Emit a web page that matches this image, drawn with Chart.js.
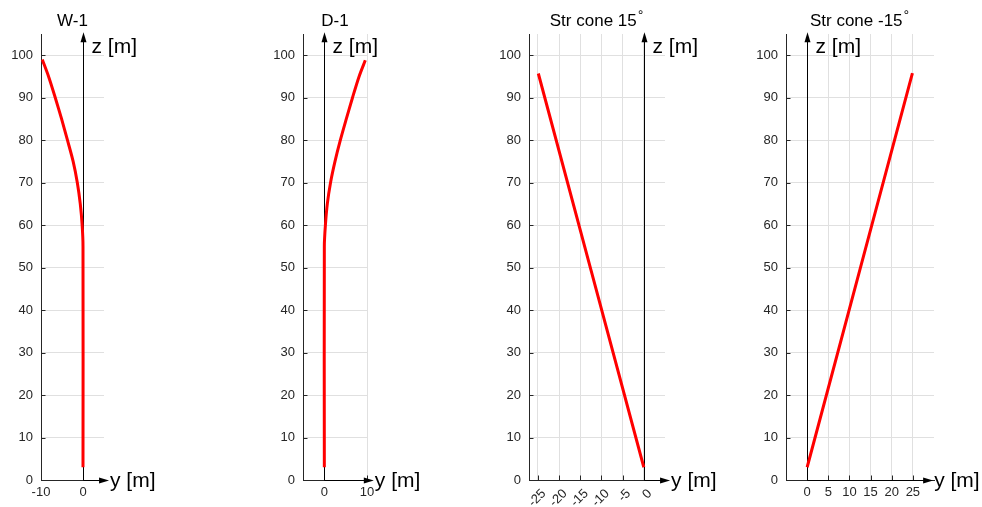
<!DOCTYPE html>
<html>
<head>
<meta charset="utf-8">
<script src="https://cdn.jsdelivr.net/npm/chart.js"></script>
<style>
  body { margin: 0; background: #fff; }
  canvas { position: absolute; left: 0; top: 0; }
</style>
</head>
<body>
<canvas id="c0" width="982" height="507"></canvas>
<canvas id="c1" width="982" height="507"></canvas>
<canvas id="c2" width="982" height="507"></canvas>
<canvas id="c3" width="982" height="507"></canvas>
<script>
// values (y = horizontal offset, z = depth, both in m)
const zTicks = [0, 10, 20, 30, 40, 50, 60, 70, 80, 90, 100];

const w1Y = [0, 0, -0.2, -0.65, -1.35, -2.35, -3.7, -5.1, -6.6, -8.2, -9.7];
const w1Z = [3, 55, 60, 65, 70, 75, 80, 85, 90, 95, 99];
const w1Ticks = [-10, 0];

const d1Y = [0, 0, 0.25, 0.7, 1.45, 2.5, 3.75, 5.15, 6.6, 8.15, 9.6];
const d1Z = [3, 55, 60, 65, 70, 75, 80, 85, 90, 95, 98.8];
const d1Ticks = [0, 10];

const cone15Y = [0, -24.9];
const cone15Z = [3, 95.7];
const cone15Ticks = [-25, -20, -15, -10, -5, 0];

const coneM15Y = [0, 24.9];
const coneM15Z = [3, 95.8];
const coneM15Ticks = [0, 5, 10, 15, 20, 25];

const titles = ['W-1', 'D-1', 'Str cone 15', 'Str cone -15'];

const FONT = '"Liberation Sans", Arial, Helvetica, sans-serif';
const TICK_COLOR = '#262626';
const GRID_COLOR = '#e0e0e0';

function toPoints(ys, zs) {
  return ys.map((v, i) => ({ x: v, y: zs[i] }));
}

// arrows go under the red line, labels and title on top
const decor = {
  id: 'decor',
  beforeDatasetsDraw(chart, args, opts) {
    const ctx = chart.ctx;
    const sx = chart.scales.x;
    const sy = chart.scales.y;
    const area = chart.chartArea;
    const x0 = Math.round(sx.getPixelForValue(0)) + 0.5;
    const y0 = Math.round(sy.getPixelForValue(0)) + 0.5;
    const tipY = sy.getPixelForValue(opts.zTip);
    const tipX = sx.getPixelForValue(opts.yTip);

    ctx.save();
    // inner ticks
    ctx.strokeStyle = TICK_COLOR;
    ctx.lineWidth = 1;
    ctx.beginPath();
    sy.ticks.forEach((t) => {
      const p = Math.round(sy.getPixelForValue(t.value)) + 0.5;
      ctx.moveTo(area.left, p);
      ctx.lineTo(area.left + 4.5, p);
    });
    sx.ticks.forEach((t) => {
      const p = Math.round(sx.getPixelForValue(t.value)) + 0.5;
      ctx.moveTo(p, area.bottom);
      ctx.lineTo(p, area.bottom - 4.5);
    });
    ctx.stroke();

    // z arrow
    ctx.strokeStyle = '#000';
    ctx.fillStyle = '#000';
    ctx.beginPath();
    ctx.moveTo(x0, y0);
    ctx.lineTo(x0, tipY + 8);
    ctx.stroke();
    ctx.beginPath();
    ctx.moveTo(x0, tipY);
    ctx.lineTo(x0 - 3, tipY + 10);
    ctx.lineTo(x0 + 3, tipY + 10);
    ctx.closePath();
    ctx.fill();

    // y arrow
    ctx.beginPath();
    ctx.moveTo(x0, y0);
    ctx.lineTo(tipX - 8, y0);
    ctx.stroke();
    ctx.beginPath();
    ctx.moveTo(tipX, y0);
    ctx.lineTo(tipX - 10, y0 - 3);
    ctx.lineTo(tipX - 10, y0 + 3);
    ctx.closePath();
    ctx.fill();
    ctx.restore();
  },
  afterDraw(chart, args, opts) {
    const ctx = chart.ctx;
    const sx = chart.scales.x;
    const area = chart.chartArea;
    const x0 = Math.round(sx.getPixelForValue(0)) + 0.5;
    const tipX = sx.getPixelForValue(opts.yTip);

    ctx.save();
    ctx.fillStyle = '#000';
    ctx.font = '21px ' + FONT;
    ctx.textAlign = 'left';
    ctx.textBaseline = 'alphabetic';
    ctx.fillText('z [m]', x0 + 8, 53);
    ctx.fillText('y [m]', tipX + 1, 487);

    // title
    const cx = (area.left + area.right) / 2;
    ctx.font = '17px ' + FONT;
    const w = ctx.measureText(opts.title).width;
    if (opts.degree) {
      ctx.font = '12px "DejaVu Sans", sans-serif';
      const wr = ctx.measureText('\u2218').width;
      const start = cx - (w + wr) / 2;
      ctx.fillText('\u2218', start + w, 15.5);
      ctx.font = '17px ' + FONT;
      ctx.fillText(opts.title, start, 25.5);
    } else {
      ctx.textAlign = 'center';
      ctx.fillText(opts.title, cx, 25.5);
    }
    ctx.restore();
  }
};

function makePlot(id, cfg) {
  const rot = cfg.rotate ? 45 : 0;
  return new Chart(document.getElementById(id), {
    type: 'scatter',
    data: {
      datasets: [{
        data: cfg.points,
        showLine: true,
        borderColor: '#ff0000',
        borderWidth: 3,
        pointRadius: 0,
        tension: 0.3,
        fill: false
      }]
    },
    options: {
      responsive: false,
      animation: false,
      devicePixelRatio: 1,
      events: [],
      layout: {
        padding: { left: cfg.left - 40, right: 982 - cfg.right, top: 34, bottom: 0 }
      },
      plugins: {
        legend: { display: false },
        tooltip: { enabled: false },
        decor: { title: cfg.title, degree: cfg.degree, zTip: 105.4, yTip: cfg.yTip }
      },
      scales: {
        x: {
          type: 'linear',
          min: cfg.min,
          max: cfg.max,
          afterBuildTicks: (s) => { s.ticks = cfg.ticks.map((v) => ({ value: v })); },
          afterFit: (s) => { s.height = 27; },
          grid: { color: GRID_COLOR, drawTicks: false },
          border: { display: true, color: TICK_COLOR, width: 1 },
          ticks: {
            color: TICK_COLOR,
            font: { family: FONT, size: 13 },
            padding: cfg.rotate ? 6 : 5,
            labelOffset: cfg.rotate ? 6 : 0,
            autoSkip: false,
            minRotation: rot,
            maxRotation: rot
          }
        },
        y: {
          type: 'linear',
          min: 0,
          max: 105,
          afterBuildTicks: (s) => { s.ticks = zTicks.map((v) => ({ value: v })); },
          afterFit: (s) => { s.width = 40; },
          grid: { color: GRID_COLOR, drawTicks: false },
          border: { display: true, color: TICK_COLOR, width: 1 },
          ticks: {
            color: TICK_COLOR,
            font: { family: FONT, size: 13 },
            padding: 8
          }
        }
      }
    },
    plugins: [decor]
  });
}

makePlot('c0', { points: toPoints(w1Y, w1Z), ticks: w1Ticks, min: -10, max: 5,
  left: 41, right: 104, yTip: 6.2, title: titles[0] });
makePlot('c1', { points: toPoints(d1Y, d1Z), ticks: d1Ticks, min: -5, max: 10,
  left: 303, right: 367, yTip: 11.6, title: titles[1] });
makePlot('c2', { points: toPoints(cone15Y, cone15Z), ticks: cone15Ticks, min: -27.1, max: 5,
  left: 529, right: 665, yTip: 6.2, title: titles[2], degree: true, rotate: true });
makePlot('c3', { points: toPoints(coneM15Y, coneM15Z), ticks: coneM15Ticks, min: -5, max: 30,
  left: 786, right: 934, yTip: 29.8, title: titles[3], degree: true });
</script>
</body>
</html>
